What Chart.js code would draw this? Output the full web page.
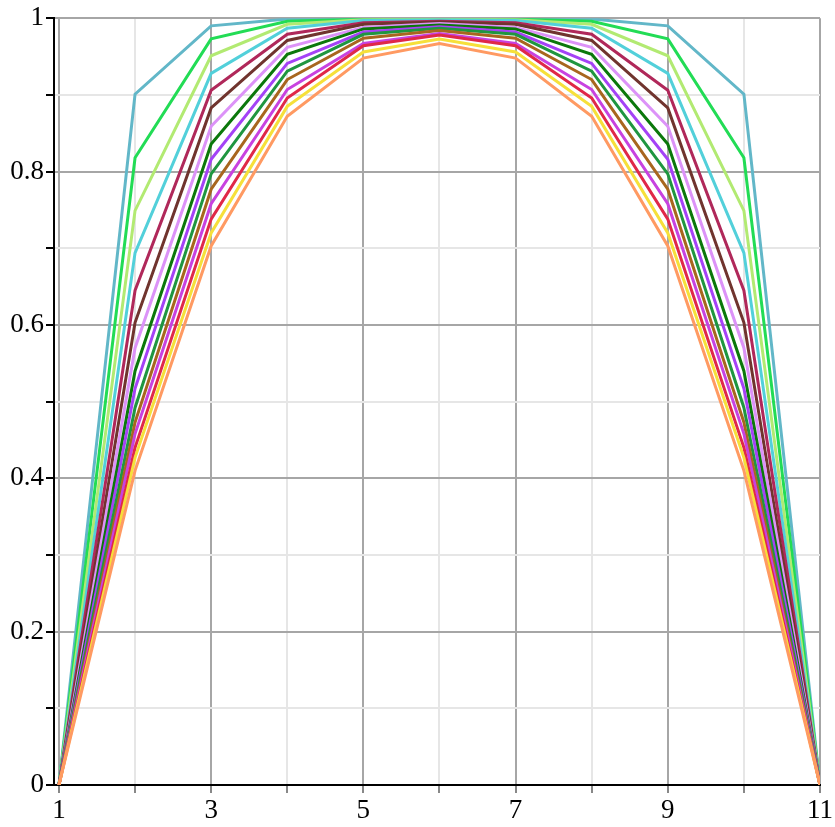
<!DOCTYPE html>
<html>
<head>
<meta charset="utf-8">
<script src="https://cdn.jsdelivr.net/npm/chart.js@4.4.1/dist/chart.umd.min.js"></script>
<style>
  html, body { margin: 0; padding: 0; background: #fff; }
  #wrap { width: 835px; height: 827px; }
</style>
</head>
<body>
<div id="wrap"><canvas id="curveChart" width="835" height="827"></canvas></div>
<script>
// x positions of the points
const xValues = [1, 2, 3, 4, 5, 6, 7, 8, 9, 10, 11];

// one array per curve (top curve first)
const tealCurve       = [0, 0.901, 0.990, 0.999, 1.000, 1.000, 1.000, 0.999, 0.990, 0.901, 0];
const greenCurve      = [0, 0.818, 0.973, 0.996, 0.999, 1.000, 0.999, 0.996, 0.973, 0.818, 0];
const lightGreenCurve = [0, 0.749, 0.951, 0.992, 0.998, 0.999, 0.998, 0.992, 0.951, 0.749, 0];
const cyanCurve       = [0, 0.694, 0.928, 0.987, 0.997, 0.998, 0.997, 0.987, 0.928, 0.694, 0];
const crimsonCurve    = [0, 0.645, 0.906, 0.979, 0.994, 0.996, 0.994, 0.979, 0.906, 0.645, 0];
const brownCurve      = [0, 0.603, 0.883, 0.971, 0.992, 0.995, 0.992, 0.971, 0.883, 0.603, 0];
const lilacCurve      = [0, 0.570, 0.859, 0.962, 0.988, 0.993, 0.988, 0.962, 0.859, 0.570, 0];
const darkGreenCurve  = [0, 0.540, 0.836, 0.953, 0.986, 0.991, 0.986, 0.953, 0.836, 0.540, 0];
const purpleCurve     = [0, 0.517, 0.816, 0.941, 0.982, 0.989, 0.982, 0.941, 0.816, 0.517, 0];
const midGreenCurve   = [0, 0.492, 0.797, 0.931, 0.979, 0.987, 0.979, 0.931, 0.797, 0.492, 0];
const ochreCurve      = [0, 0.473, 0.777, 0.920, 0.974, 0.984, 0.974, 0.920, 0.777, 0.473, 0];
const magentaCurve    = [0, 0.458, 0.758, 0.907, 0.967, 0.980, 0.967, 0.907, 0.758, 0.458, 0];
const redCurve        = [0, 0.440, 0.738, 0.896, 0.964, 0.978, 0.964, 0.896, 0.738, 0.440, 0];
const yellowCurve     = [0, 0.427, 0.720, 0.885, 0.956, 0.973, 0.956, 0.885, 0.720, 0.427, 0];
const salmonCurve     = [0, 0.410, 0.703, 0.872, 0.948, 0.967, 0.948, 0.872, 0.703, 0.410, 0];

const curves = [tealCurve, greenCurve, lightGreenCurve, cyanCurve, crimsonCurve, brownCurve,
                lilacCurve, darkGreenCurve, purpleCurve, midGreenCurve, ochreCurve,
                magentaCurve, redCurve, yellowCurve, salmonCurve];
const curveColors = ['#62b7c8', '#22dc55', '#b2ea72', '#52d0da', '#b0285a', '#70342e',
                     '#dc92f8', '#0b780b', '#a442f6', '#1f9640', '#a8661e',
                     '#c842e0', '#e02848', '#f6e03a', '#ff9a62'];

// tick values
const xTicks = [1, 2, 3, 4, 5, 6, 7, 8, 9, 10, 11];
const yTicks = [0, 0.1, 0.2, 0.3, 0.4, 0.5, 0.6, 0.7, 0.8, 0.9, 1];

const tickFont = { family: '"Liberation Serif", "Times New Roman", serif', size: 27 };

function isMajorX(v) { return Math.round(v) % 2 === 1; }
function isMajorY(v) { return Math.round(v * 10) % 2 === 0; }

const datasets = curves.map((vals, i) => ({
    data: vals.map((y, j) => ({ x: xValues[j], y: y })),
    borderColor: curveColors[i],
    borderWidth: 3,
    pointRadius: 0,
    fill: false,
    tension: 0,
    order: curves.length - i
}));

const ctx = document.getElementById('curveChart').getContext('2d');
new Chart(ctx, {
    type: 'line',
    data: { datasets: datasets },
    options: {
        responsive: false,
        animation: false,
        layout: { padding: { top: 17, right: 11, left: 0, bottom: 0 } },
        plugins: { legend: { display: false }, tooltip: { enabled: false } },
        scales: {
            x: {
                type: 'linear',
                min: 0.935,
                max: 11,
                afterBuildTicks: scale => { scale.ticks = xTicks.map(v => ({ value: v })); },
                afterFit: scale => { scale.height = 42; },
                border: { color: '#000', width: 2 },
                grid: {
                    color: c => isMajorX(c.tick.value) ? '#a6a6a6' : '#e6e6e6',
                    lineWidth: 2,
                    tickColor: '#888',
                    tickLength: 8
                },
                ticks: {
                    autoSkip: false,
                    maxRotation: 0,
                    padding: 2,
                    color: '#000',
                    font: tickFont,
                    callback: v => isMajorX(v) ? String(v) : ''
                }
            },
            y: {
                min: 0,
                max: 1,
                afterBuildTicks: scale => { scale.ticks = yTicks.map(v => ({ value: v })); },
                afterFit: scale => { scale.width = 54; },
                border: { color: '#000', width: 2 },
                grid: {
                    color: c => isMajorY(c.tick.value) ? '#a6a6a6' : '#e6e6e6',
                    lineWidth: 2,
                    tickColor: '#000',
                    tickLength: 8
                },
                ticks: {
                    autoSkip: false,
                    padding: 2,
                    color: '#000',
                    font: tickFont,
                    callback: v => {
                        if (!isMajorY(v)) return '';
                        if (v === 0) return '0';
                        if (Math.abs(v - 1) < 1e-9) return '1';
                        return v.toFixed(1);
                    }
                }
            }
        }
    }
});
</script>
</body>
</html>
